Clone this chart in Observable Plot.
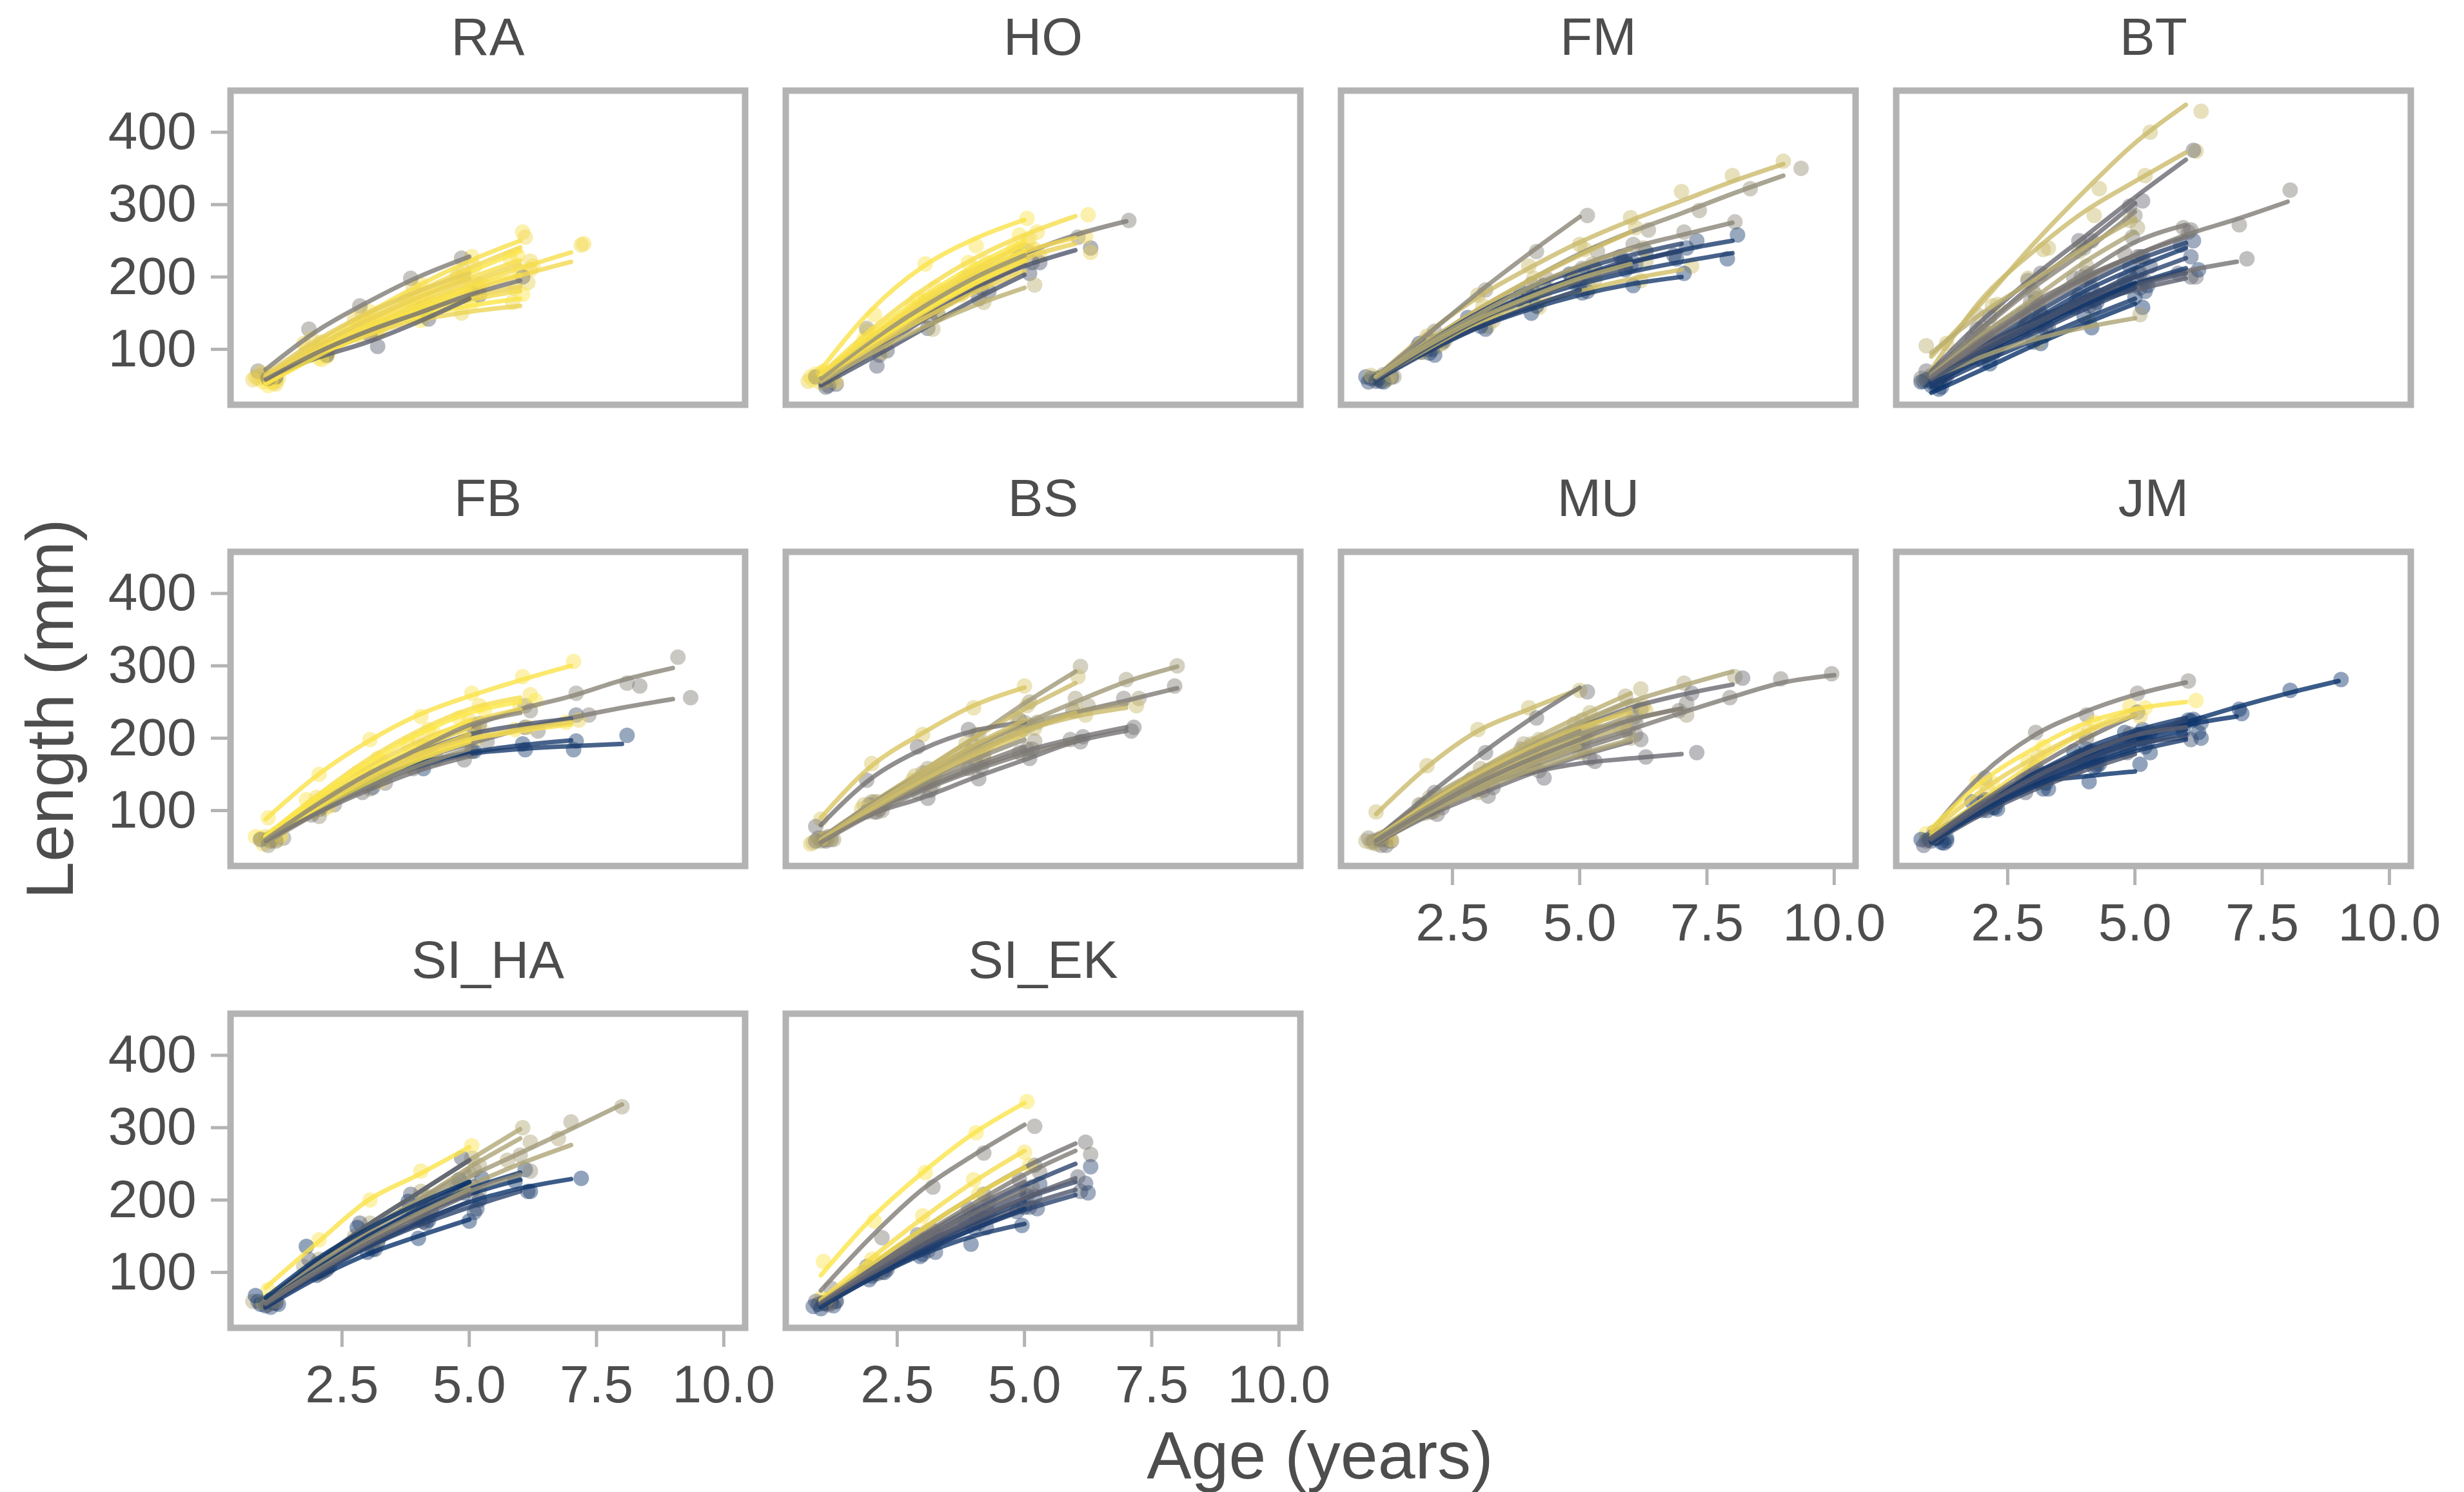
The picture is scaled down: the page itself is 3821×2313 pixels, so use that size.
<!DOCTYPE html>
<html>
<head>
<meta charset="utf-8">
<script src="https://cdn.jsdelivr.net/npm/d3@7"></script>
<script src="https://cdn.jsdelivr.net/npm/@observablehq/plot@0.6"></script>
<style>
  html, body { margin: 0; padding: 0; background: #fff; }
  #chart { position: relative; width: 3821px; height: 2313px; background: #fff; overflow: hidden;
           font-family: "Liberation Sans", Arial, Helvetica, sans-serif; }
  #chart svg { position: absolute; }
</style>
</head>
<body>
<div id="chart"></div>
<script>
// Individual growth trajectories per site.
// c = colour value (0 = dark blue, 1 = yellow), d = horizontal offset of the observed points,
// L = fitted length (mm) at ages 1..n, P = observed length (mm) at ages 1..n.
const RA = [
  {c: .96, d: .05, L: [62,108,150,188,222,250], P: [66,104,152,190,228,262]},
  {c: .93, d: .10, L: [60,103,143,180,212,241], P: [58,110,140,178,215,255]},
  {c: .98, d: -.05, L: [57,98,137,172,206,236], P: [55,95,140,175,200,230]},
  {c: .95, d: -.20, L: [60,100,136,168,198,223], P: [62,98,132,170,205,226]},
  {c: .92, d: .20, L: [55,95,130,162,192,217], P: [52,92,134,160,188,222]},
  {c: .97, d: 0, L: [58,96,130,160,185,203], P: [60,100,128,162,180,208]},
  {c: .90, d: .15, L: [56,92,125,152,172,187], P: [54,96,122,150,178,192]},
  {c: .94, d: -.10, L: [60,96,125,150,168,181], P: [64,92,128,148,172,184]},
  {c: .99, d: .05, L: [54,90,120,145,160,170], P: [50,88,124,140,165,176]},
  {c: .91, d: -.15, L: [58,92,120,140,152,160], P: [60,95,118,145,150,165]},
  {c: .95, d: .25, L: [58,96,130,160,188,212,234], P: [60,98,126,165,190,215,246]},
  {c: .93, d: .20, L: [55,92,124,154,180,202,221], P: [56,90,128,150,185,210,244]},
  {c: .50, d: -.15, L: [72,125,165,200,228], P: [70,128,160,198,226]},
  {c: .35, d: .20, L: [60,88,110,138,170], P: [62,92,104,142,175]},
  {c: .88, d: -.10, L: [65,112,150,180,205], P: [68,115,148,185,208]},
  {c: .97, d: .10, L: [52,90,125,155,183], P: [55,86,128,160,180]},
  {c: .90, d: -.25, L: [62,104,140,172,198], P: [58,108,142,168,200]},
  {c: .45, d: .05, L: [58,95,125,150,175,195], P: [60,100,120,155,178,200]}
];
const HO = [
  {c: .97, d: .05, L: [72,155,214,252,279], P: [70,148,218,243,281]},
  {c: .95, d: .25, L: [65,128,182,225,258,284], P: [68,122,185,220,262,286]},
  {c: .50, d: .05, L: [60,112,160,200,232,258,277], P: [62,108,165,198,236,255,278]},
  {c: .30, d: .30, L: [55,100,145,185,215,237], P: [52,98,148,180,220,240]},
  {c: .93, d: .20, L: [62,115,163,205,235,254], P: [60,118,160,208,238,256]},
  {c: .90, d: .30, L: [58,108,155,195,226,246], P: [55,112,150,198,230,234]},
  {c: .98, d: -.10, L: [64,122,172,215,250], P: [66,126,170,220,258]},
  {c: .94, d: .10, L: [60,115,165,208,245], P: [58,112,168,205,252]},
  {c: .96, d: -.20, L: [58,110,158,200,237], P: [62,106,160,198,240]},
  {c: .35, d: .15, L: [52,95,140,182,217], P: [50,92,142,185,220]},
  {c: .92, d: 0, L: [56,104,150,190,224], P: [54,108,146,195,228]},
  {c: .97, d: -.05, L: [60,108,152,190,222], P: [64,112,150,186,226]},
  {c: .90, d: -.25, L: [58,102,142,178,208], P: [56,100,145,175,212]},
  {c: .30, d: .10, L: [50,88,128,168,203], P: [48,77,129,170,205]},
  {c: .75, d: .20, L: [55,95,130,160,185], P: [57,96,128,165,189]},
  {c: .99, d: -.15, L: [62,110,155,195,232], P: [58,114,152,200,235]},
  {c: .60, d: -.10, L: [60,112,158,198,230], P: [62,129,155,200,228]},
  {c: .95, d: .05, L: [66,118,168,210,245], P: [68,122,172,212,248]}
];
const FM = [
  {c: .80, d: 0, L: [62,122,172,212,248,278,305,332,356], P: [60,118,175,215,245,282,318,340,360]},
  {c: .60, d: .35, L: [60,110,155,195,232,262,288,315,340], P: [62,112,150,198,235,265,292,322,350]},
  {c: .55, d: .15, L: [62,120,178,232,283], P: [65,125,182,235,285]},
  {c: .82, d: .10, L: [60,110,155,195,230,262], P: [62,115,160,198,238,268]},
  {c: .55, d: .05, L: [60,108,150,185,215,240,258,275], P: [58,112,148,190,212,245,262,276]},
  {c: .15, d: .10, L: [58,105,145,175,200,220,237,250], P: [56,100,148,178,205,218,240,258]},
  {c: .15, d: -.10, L: [58,100,138,168,190,207,221,233], P: [60,96,140,165,192,210,225,225]},
  {c: .20, d: .30, L: [60,108,150,185,210,230,246], P: [62,110,148,188,212,235,250]},
  {c: .20, d: -.15, L: [58,104,142,175,200,220,236], P: [55,108,140,178,198,222,230]},
  {c: .82, d: .20, L: [60,100,135,160,180,197,210], P: [58,104,132,158,185,195,215]},
  {c: .15, d: .05, L: [58,98,130,155,175,190,200], P: [60,95,132,150,178,188,205]},
  {c: .70, d: .25, L: [62,108,148,185,215,238], P: [60,112,150,182,218,240]},
  {c: .20, d: -.20, L: [60,104,140,172,200,225], P: [62,102,144,170,204,228]},
  {c: .18, d: .15, L: [57,96,130,158,182], P: [55,92,128,160,180]},
  {c: .80, d: -.10, L: [60,100,138,170,195], P: [64,96,135,172,198]},
  {c: .25, d: 0, L: [58,102,140,170,195,213], P: [56,100,138,175,190,215]},
  {c: .75, d: .30, L: [62,105,142,172,198,218], P: [64,108,140,176,196,222]}
];
const BT = [
  {c: .80, d: .30, L: [90,165,245,318,385,438], P: [108,162,240,322,400,429]},
  {c: .80, d: .20, L: [72,170,235,290,332,372], P: [75,160,238,285,340,374]},
  {c: .40, d: .15, L: [70,140,200,255,310,362], P: [68,145,205,250,305,375]},
  {c: .50, d: .05, L: [65,120,165,200,230,258,280,304], P: [62,118,170,205,228,262,272,320]},
  {c: .45, d: .20, L: [60,105,140,170,190,208,221], P: [62,102,145,168,195,200,225]},
  {c: .40, d: -.10, L: [68,130,190,245,302], P: [70,128,195,250,298]},
  {c: .55, d: 0, L: [66,128,185,235,290], P: [64,130,180,240,285]},
  {c: .70, d: .05, L: [64,120,170,220,262], P: [66,125,175,215,268]},
  {c: .50, d: -.05, L: [62,115,160,205,248,272], P: [60,112,165,200,255,268]},
  {c: .20, d: .15, L: [58,105,148,188,222,247], P: [56,108,150,185,228,250]},
  {c: .15, d: -.10, L: [55,100,140,180,212,240], P: [58,102,142,175,215,244]},
  {c: .20, d: .10, L: [57,100,138,172,200,226], P: [55,96,140,168,205,228]},
  {c: .15, d: .25, L: [55,95,130,162,190,212], P: [58,98,128,165,188,210]},
  {c: .30, d: -.15, L: [58,100,135,165,188,205], P: [56,104,132,168,190,205]},
  {c: .35, d: .10, L: [60,102,135,162,182,198], P: [62,100,138,160,185,200]},
  {c: .25, d: .05, L: [55,95,130,165,200], P: [52,92,135,170,205]},
  {c: .10, d: -.20, L: [52,90,125,160,192], P: [55,88,128,158,195]},
  {c: .20, d: .20, L: [50,88,122,155,185], P: [48,92,118,158,180]},
  {c: .15, d: 0, L: [48,82,112,142,170], P: [50,85,110,146,172]},
  {c: .10, d: .15, L: [40,72,105,135,163], P: [45,80,108,130,158]},
  {c: .70, d: .10, L: [60,90,113,130,143], P: [62,95,110,138,148]},
  {c: .50, d: -.20, L: [62,110,155,195,230], P: [60,115,150,198,232]},
  {c: .25, d: .30, L: [58,98,135,170,205], P: [62,100,130,175,215]},
  {c: .75, d: -.10, L: [95,150,195,240,280], P: [105,148,198,235,278]},
  {c: .45, d: .10, L: [62,112,158,198,230,255], P: [60,118,160,200,228,265]}
];
const FB = [
  {c: .97, d: .05, L: [88,148,195,232,258,280,300], P: [90,150,198,230,262,285,306]},
  {c: .55, d: .10, L: [62,110,150,185,215,240,258,280,297], P: [60,112,148,188,218,245,262,276,312]},
  {c: .50, d: .35, L: [60,105,140,170,192,212,228,242,254], P: [62,108,138,172,195,210,232,272,256]},
  {c: .15, d: .10, L: [60,100,135,160,178,185,189,192], P: [58,104,132,158,182,184,196,204]},
  {c: .15, d: .05, L: [58,100,140,165,180,190,197], P: [60,102,138,168,182,192,184]},
  {c: .30, d: .10, L: [60,110,150,180,205,218,227], P: [62,112,148,182,208,215,232]},
  {c: .95, d: .20, L: [65,120,170,210,240,256], P: [68,118,172,212,245,260]},
  {c: .92, d: 0, L: [62,115,160,195,222,240], P: [64,118,158,198,225,244]},
  {c: .97, d: -.10, L: [60,108,148,178,198,210,219], P: [62,106,150,175,200,212,222]},
  {c: .90, d: .15, L: [58,105,145,175,198,212,222], P: [60,102,148,178,200,215,225]},
  {c: .98, d: -.20, L: [62,112,155,190,225], P: [64,115,152,192,228]},
  {c: .95, d: .10, L: [60,108,150,185,215], P: [58,110,148,188,218]},
  {c: .90, d: .25, L: [58,104,144,178,205], P: [60,106,140,180,210]},
  {c: .97, d: -.05, L: [56,100,138,170,195], P: [54,98,140,172,198]},
  {c: .60, d: .05, L: [55,96,132,162,185], P: [52,92,130,165,182]},
  {c: .45, d: -.10, L: [58,96,128,155,175], P: [60,94,125,158,170]},
  {c: .99, d: .30, L: [64,118,165,205,235,250], P: [66,120,168,208,238,252]},
  {c: .55, d: .20, L: [60,108,150,185,218,235], P: [58,112,148,188,220,238]}
];
const BS = [
  {c: .85, d: 0, L: [90,162,207,245,270], P: [88,165,205,242,272]},
  {c: .65, d: .10, L: [62,110,155,200,248,292], P: [60,112,158,205,250,299]},
  {c: .80, d: .05, L: [60,110,155,200,240,276], P: [62,112,152,205,245,285]},
  {c: .65, d: 0, L: [60,110,150,188,220,250,278,299], P: [58,112,152,190,222,255,281,300]},
  {c: .50, d: -.05, L: [60,105,145,180,210,235,252,269], P: [62,108,142,182,212,238,255,272]},
  {c: .45, d: .10, L: [60,95,118,145,170,195,210], P: [58,98,117,144,172,195,210]},
  {c: .45, d: .15, L: [62,100,130,158,182,200,215], P: [64,102,128,160,185,202,215]},
  {c: .65, d: .25, L: [62,108,150,188,218,236,247], P: [60,110,152,190,222,245,255]},
  {c: .80, d: .20, L: [60,105,145,180,210,230,242], P: [62,108,148,178,214,232,245]},
  {c: .45, d: -.10, L: [80,145,185,210,222], P: [78,142,188,212,225]},
  {c: .50, d: .05, L: [58,100,135,162,188], P: [60,98,138,165,185]},
  {c: .80, d: -.15, L: [58,106,150,190,225], P: [56,108,148,192,228]},
  {c: .75, d: .10, L: [60,104,145,182,214], P: [62,106,142,185,218]},
  {c: .85, d: -.20, L: [56,100,140,175,205], P: [54,102,142,178,208]},
  {c: .60, d: .20, L: [57,98,136,170,198], P: [60,100,134,172,196]},
  {c: .80, d: 0, L: [58,102,142,178,210,235], P: [60,104,145,175,212,238]},
  {c: .50, d: -.10, L: [56,95,128,155,178,196], P: [58,98,125,158,180,198]}
];
const MU = [
  {c: .50, d: -.05, L: [55,100,135,165,190,212,235,257,277,287], P: [58,104,130,168,195,210,238,256,282,289]},
  {c: .70, d: .05, L: [62,115,155,190,220,250,272,292], P: [60,118,158,192,225,245,276,285]},
  {c: .40, d: .20, L: [60,110,150,185,215,242,260,274], P: [62,112,155,188,218,240,262,283]},
  {c: .40, d: .30, L: [55,100,135,152,165,172,178], P: [58,104,132,145,168,174,180]},
  {c: .65, d: .10, L: [60,108,148,180,205,225,241], P: [62,110,150,178,208,230,232]},
  {c: .80, d: 0, L: [95,160,210,240,268], P: [98,162,212,242,266]},
  {c: .45, d: .15, L: [62,120,175,225,270], P: [60,125,180,228,264]},
  {c: .75, d: .20, L: [60,110,155,195,230,262], P: [62,112,150,198,235,268]},
  {c: .70, d: -.10, L: [58,105,148,188,222,252], P: [56,108,145,192,220,258]},
  {c: .80, d: .25, L: [60,105,145,180,212,240], P: [58,110,142,185,215,245]},
  {c: .65, d: .05, L: [58,100,140,175,205,230], P: [60,98,144,170,210,228]},
  {c: .75, d: -.20, L: [55,98,135,168,195,218], P: [58,95,138,165,200,215]},
  {c: .50, d: .10, L: [55,95,130,160,185,207], P: [52,98,128,164,182,205]},
  {c: .80, d: .15, L: [60,102,140,172,200], P: [64,100,142,175,205]},
  {c: .72, d: -.05, L: [58,98,132,162,188], P: [56,96,135,160,190]},
  {c: .45, d: .20, L: [55,92,122,150,175,195], P: [52,95,120,155,172,198]},
  {c: .85, d: .30, L: [62,108,150,185,215,235], P: [60,112,148,188,218,238]},
  {c: .60, d: -.15, L: [60,104,145,180,210], P: [62,108,142,185,208]},
  {c: .70, d: 0, L: [56,96,128,155,178,198], P: [54,100,125,158,180,200]},
  {c: .50, d: .10, L: [58,100,138,170,198,225,241], P: [60,104,140,172,200,222,248]}
];
const JM = [
  {c: .10, d: .05, L: [66,112,150,180,203,222,243,262,279], P: [64,115,148,185,205,225,240,266,281]},
  {c: .10, d: .10, L: [64,110,148,178,200,218,230], P: [62,112,150,180,205,224,234]},
  {c: .50, d: .05, L: [72,150,203,236,260,277], P: [70,145,208,232,262,279]},
  {c: .97, d: .20, L: [75,140,185,220,240,250], P: [72,138,188,222,242,252]},
  {c: .95, d: -.10, L: [65,115,165,208,240], P: [68,140,168,205,244]},
  {c: .10, d: .10, L: [60,110,138,147,154], P: [62,112,140,140,164]},
  {c: .15, d: .15, L: [62,110,150,185,210,228], P: [65,108,152,182,212,226]},
  {c: .20, d: .30, L: [60,108,148,180,205,224], P: [62,112,145,178,208,221]},
  {c: .10, d: -.05, L: [58,105,142,172,195,212], P: [60,102,145,175,198,210]},
  {c: .15, d: .25, L: [57,100,136,166,190,206], P: [55,104,138,162,195,208]},
  {c: .25, d: .10, L: [60,104,140,170,192,200], P: [62,100,142,168,194,198]},
  {c: .10, d: -.20, L: [62,108,145,178,205], P: [60,112,142,182,208]},
  {c: .20, d: 0, L: [60,104,140,170,196], P: [58,100,144,168,200]},
  {c: .12, d: .20, L: [58,100,134,162,185], P: [56,104,130,160,188]},
  {c: .30, d: -.15, L: [55,95,128,155,178], P: [52,98,125,158,180]},
  {c: .45, d: .05, L: [62,112,158,198,232], P: [65,115,160,200,236]},
  {c: .15, d: .30, L: [56,98,132,160,182,198], P: [58,102,130,164,180,200]},
  {c: .90, d: .10, L: [70,128,172,208,232], P: [72,130,175,210,230]},
  {c: .35, d: -.10, L: [60,106,145,178,204,215], P: [58,110,148,175,206,218]}
];
const SI_HA = [
  {c: .65, d: 0, L: [60,110,155,195,232,265,298,332], P: [58,112,158,192,236,262,308,329]},
  {c: .72, d: .05, L: [62,115,165,210,255,298], P: [60,118,168,212,258,300]},
  {c: .70, d: .20, L: [60,110,158,200,245,285], P: [62,112,155,205,248,280]},
  {c: .70, d: -.25, L: [58,105,148,185,220,250,276], P: [60,108,150,188,222,255,285]},
  {c: .97, d: .05, L: [79,140,199,235,273], P: [76,145,200,240,275]},
  {c: .10, d: .20, L: [55,100,140,170,197,216,229], P: [58,104,142,172,200,212,230]},
  {c: .15, d: .10, L: [60,108,150,185,215,238], P: [62,112,148,188,218,242]},
  {c: .10, d: -.10, L: [58,104,145,180,208,228], P: [56,100,148,178,210,226]},
  {c: .20, d: .15, L: [55,98,135,165,190,212], P: [58,102,132,168,188,212]},
  {c: .10, d: 0, L: [52,92,125,150,173], P: [54,96,128,147,171]},
  {c: .30, d: -.15, L: [62,115,165,210,255], P: [60,118,168,208,258]},
  {c: .65, d: .10, L: [60,110,158,200,240], P: [62,112,155,205,242]},
  {c: .15, d: .25, L: [58,105,148,188,225], P: [56,108,150,185,230]},
  {c: .70, d: -.05, L: [56,100,142,180,215], P: [58,104,140,182,218]},
  {c: .20, d: .10, L: [54,96,135,168,198], P: [52,100,132,170,183]},
  {c: .60, d: .20, L: [58,102,145,182,212,235], P: [60,105,142,185,214,240]},
  {c: .10, d: -.20, L: [65,118,160,195,225], P: [68,136,162,198,228]},
  {c: .40, d: .05, L: [57,100,140,175,208], P: [55,98,143,172,212]}
];
const SI_EK = [
  {c: .98, d: .05, L: [96,175,238,292,334], P: [115,171,238,293,336]},
  {c: .50, d: .20, L: [75,150,215,262,304], P: [78,148,218,265,302]},
  {c: .95, d: 0, L: [62,120,175,225,268], P: [64,118,178,228,266]},
  {c: .45, d: .20, L: [60,110,160,205,245,278], P: [62,112,158,208,248,280]},
  {c: .50, d: .30, L: [58,105,152,195,235,268], P: [60,108,150,198,238,263]},
  {c: .20, d: .30, L: [58,102,145,185,220,250], P: [60,104,148,182,222,246]},
  {c: .25, d: .20, L: [56,98,138,172,202,225], P: [58,100,140,175,205,223]},
  {c: .30, d: .10, L: [55,95,132,165,192,214], P: [57,98,130,168,190,212]},
  {c: .20, d: .25, L: [56,96,130,160,186,207], P: [54,100,128,162,188,210]},
  {c: .15, d: -.05, L: [54,92,125,150,167], P: [56,90,122,139,165]},
  {c: .95, d: .10, L: [60,112,160,205,245], P: [62,115,158,208,248]},
  {c: .40, d: -.10, L: [58,105,150,190,225], P: [60,108,152,188,228]},
  {c: .30, d: .05, L: [56,100,142,178,210], P: [58,98,145,180,212]},
  {c: .20, d: -.15, L: [55,96,135,168,198], P: [53,100,132,170,184]},
  {c: .45, d: .15, L: [57,102,145,182,215], P: [55,104,148,185,218]},
  {c: .35, d: .05, L: [55,98,138,172,203,230], P: [57,100,136,176,206,232]},
  {c: .15, d: 0, L: [52,92,128,160,188], P: [50,95,125,162,190]}
];

const sites = ["RA", "HO", "FM", "BT", "FB", "BS", "MU", "JM", "SI_HA", "SI_EK"];
const fishBySite = [RA, HO, FM, BT, FB, BS, MU, JM, SI_HA, SI_EK];
const yTicks = [100, 200, 300, 400];
const xTicks = [2.5, 5.0, 7.5, 10.0];

// Panel geometry (pixels) and shared styling
const colX = [356.5, 1217.5, 2078.5, 2939.5];
const rowY = [140, 855, 1570.5];
const PW = 798, PH = 487;
const ink = "#4d4d4d", rule = "#b3b3b3";
const font = '"Liberation Sans", Arial, Helvetica, sans-serif';

const chart = document.getElementById("chart");

sites.forEach((site, i) => {
  const col = i % 4, row = Math.floor(i / 4);
  const showY = col === 0;
  const showX = row === 2 || (row === 1 && col >= 2);
  const mL = showY ? 240 : 12, mR = 12, mT = 130, mB = showX ? 170 : 12;

  const lines = [], pts = [];
  fishBySite[i].forEach((f, id) => {
    f.L.forEach((v, k) => lines.push({id, age: k + 1, len: v, c: f.c}));
    f.P.forEach((v, k) => pts.push({age: k + 1 + f.d, len: v, c: f.c}));
  });

  const marks = [
    Plot.dot(pts, {x: "age", y: "len", fill: "c", r: 12, fillOpacity: 0.45}),
    Plot.line(lines, {x: "age", y: "len", z: "id", stroke: "c", strokeWidth: 7,
                      strokeOpacity: 0.8, curve: "monotone-x"}),
    Plot.frame({stroke: rule, strokeWidth: 10}),
    Plot.text([site], {text: d => d, frameAnchor: "top", lineAnchor: "middle", dy: -82,
                       fontSize: 82, fill: ink})
  ];
  if (showY) marks.push(Plot.axisY(yTicks, {tickSize: 30, tickPadding: 23, fontSize: 82,
                                            stroke: rule, strokeWidth: 5, fill: ink, label: null}));
  if (showX) marks.push(Plot.axisX(xTicks, {tickSize: 30, tickPadding: 27, fontSize: 82,
                                            stroke: rule, strokeWidth: 5, fill: ink, label: null,
                                            tickFormat: d => d.toFixed(1)}));

  const svg = Plot.plot({
    width: PW + mL + mR,
    height: PH + mT + mB,
    marginLeft: mL, marginRight: mR, marginTop: mT, marginBottom: mB,
    x: {domain: [0.31, 10.42], axis: null},
    y: {domain: [23.4, 457.5], axis: null},
    color: {type: "linear", scheme: "cividis", domain: [0, 1]},
    style: {background: "transparent", overflow: "visible", fontFamily: font, maxWidth: "none"},
    marks
  });
  svg.style.left = (colX[col] - mL) + "px";
  svg.style.top = (rowY[row] - mT) + "px";
  chart.appendChild(svg);
});

// Shared axis titles
const overlay = d3.select(chart).append("svg")
  .attr("width", 3821).attr("height", 2313)
  .style("left", "0px").style("top", "0px").style("pointer-events", "none")
  .attr("font-family", font).attr("fill", ink).attr("font-size", 104);
overlay.append("text").attr("x", 2047).attr("y", 2292).attr("text-anchor", "middle").text("Age (years)");
overlay.append("text").attr("transform", "translate(113,1099) rotate(-90)")
  .attr("text-anchor", "middle").text("Length (mm)");
</script>
</body>
</html>
